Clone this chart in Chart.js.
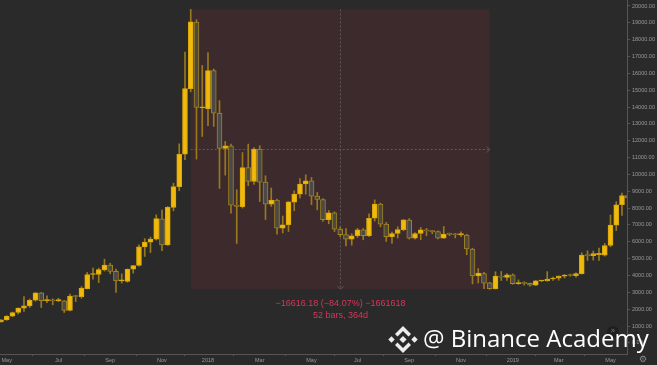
<!DOCTYPE html>
<html><head><meta charset="utf-8">
<script src="https://cdn.jsdelivr.net/npm/chart.js@4.4.1/dist/chart.umd.min.js"></script>
<style>html,body{margin:0;padding:0;background:#2a2a2a;overflow:hidden}canvas{display:block}</style>
</head><body><canvas id="c" width="657" height="365"></canvas>
<script>
// Weekly candles, index 0 = week of 2018-01-01
const FIRST_WEEK = -36;
const opens  = [1250,1360,1580,1800,2060,2200,2530,2970,2510,2530,2490,2500,1920,2770,2740,3210,4060,4060,4330,4620,4240,3680,3650,4370,4590,5700,5980,6160,7370,5820,8040,9280,11200,15090,19050,13960,
  13900,16170,13640,11540,11700,8180,8080,10400,9580,11500,9540,8240,8480,6810,7010,8360,8830,9430,9620,8710,8510,7320,7720,6750,6430,6160,6360,6710,6360,7400,8240,7050,6300,6490,6720,7290,6220,6490,6700,6650,6600,6220,6460,6440,6410,6400,5570,3980,4120,3560,3210,3960,
  3880,4040,3520,3550,3540,3420,3670,3680,3790,3840,3960,4010,3990,4110,5210,5180,5240,5210,5780,6990,8200,8750];
const highs  = [1380,1620,1830,2080,2750,2600,2980,2990,2790,2610,2650,2520,2890,2830,3340,4180,4440,4440,4970,4730,4380,4100,4390,4600,5820,6190,6280,7600,7880,8100,9480,11820,17270,19798,19190,16470,
  17230,16260,14380,11960,11800,9090,11300,11800,11600,11700,9920,9190,8540,7530,8380,9030,9750,9980,9820,8930,8570,7860,7780,6870,6790,6480,6800,6790,7660,8490,8300,7150,6580,6890,7310,7380,6540,6850,6790,6680,6650,6910,6520,6500,6590,6450,5620,4410,4180,3600,4220,4240,
  4110,4100,3740,3630,3550,3700,3720,4230,3900,3980,4060,4080,4150,5350,5470,5450,5630,5900,7590,8380,8890,9090];
const lows   = [1230,1340,1550,1720,1860,2100,2470,2100,2380,2260,2450,1800,1900,2450,2650,3200,3780,3580,4260,4100,2990,3550,3600,4140,4560,5130,5360,6100,5480,5780,7840,9030,10870,14900,10910,12250,
  12900,12850,9170,9960,7700,5900,8000,9330,9400,8390,7320,8100,6460,6520,6610,7840,8600,8830,8200,7900,7210,7070,6610,6310,5760,5800,6260,6120,6300,7230,6890,6020,5900,6220,6650,6160,6150,6120,6360,6480,6170,6200,6360,6230,6300,5230,3500,3550,3210,3180,3190,3700,
  3700,3480,3470,3430,3370,3400,3630,3660,3700,3720,3850,3950,3900,4080,4890,4910,4890,5150,5700,6670,7560,8020];
const closes = [1360,1580,1800,2060,2200,2530,2970,2510,2530,2500,2570,1920,2770,2750,3250,4060,4090,4350,4620,4240,3680,3700,4370,4590,5700,5980,6160,7380,5820,8040,9280,11200,15090,19060,13980,13990,
  16160,13640,11540,11700,8180,8100,10410,9580,11500,9540,8240,8480,6810,7010,8370,8830,9430,9620,8710,8510,7320,7720,6750,6420,6160,6360,6710,6360,7400,8240,7050,6300,6490,6730,7300,6220,6490,6710,6650,6600,6220,6460,6440,6420,6490,5570,3980,4140,3550,3210,3960,3900,
  4040,3520,3550,3530,3420,3680,3690,3790,3840,3960,4030,4000,4110,5210,5180,5300,5320,5780,6990,8200,8750,8600];

const tickWeeks  = [-35,-26,-17,-8,0,9,18,26,35,44,53,61,70];
const tickLabels = ['May','Jul','Sep','Nov','2018','Mar','May','Jul','Sep','Nov','2019','Mar','May'];
const priceTicks = [0,1000,2000,3000,4000,5000,6000,7000,8000,9000,10000,11000,12000,13000,14000,15000,16000,17000,18000,19000,20000];

// Date & price range measurement
const measureFromWeek = -3, measureToWeek = 49;
const measureHigh = 19798, measureLow = 3181.82;
const measureLine1 = '\u221216616.18 (\u221284.07%) \u22121661618';
const measureLine2 = '52 bars, 364d';

const UP_FILL = '#f0b90b', UP_BORDER = '#d9a70c';
const DN_FILL = '#4a4945', DN_BORDER = '#a3851f';
const WICK = '#98791d';

const bodies = [], wicks = [], fills = [], borders = [];
for (let k = 0; k < opens.length; k++) {
  const x = FIRST_WEEK + k;
  const o = opens[k], c = closes[k];
  bodies.push({x: x, y: [Math.min(o, c), Math.max(o, c)]});
  wicks.push({x: x, y: [lows[k], highs[k]]});
  const up = c >= o;
  fills.push(up ? UP_FILL : DN_FILL);
  borders.push(up ? UP_BORDER : DN_BORDER);
}

const bgPlugin = {
  id: 'bg',
  beforeDraw(chart) {
    const ctx = chart.ctx;
    ctx.save();
    ctx.fillStyle = '#2a2a2a';
    ctx.fillRect(0, 0, chart.width, chart.height);
    ctx.restore();
  },
  beforeDatasetsDraw(chart) {
    const ctx = chart.ctx, xs = chart.scales.x, ys = chart.scales.y;
    const x0 = xs.getPixelForValue(measureFromWeek), x1 = xs.getPixelForValue(measureToWeek);
    const y0 = ys.getPixelForValue(measureHigh), y1 = ys.getPixelForValue(measureLow);
    ctx.save();
    ctx.fillStyle = '#3d2a2d';
    ctx.fillRect(x0, y0, x1 - x0, y1 - y0);
    const mx = Math.round((x0 + x1) / 2) + 0.5, my = Math.round((y0 + y1) / 2) + 0.5;
    ctx.strokeStyle = '#5e5a5a';
    ctx.lineWidth = 1;
    ctx.setLineDash([2, 2]);
    ctx.beginPath();
    ctx.moveTo(x0, my); ctx.lineTo(x1, my);
    ctx.moveTo(mx, y0); ctx.lineTo(mx, y1);
    ctx.stroke();
    ctx.setLineDash([]);
    ctx.beginPath();
    ctx.moveTo(x1 - 3, my - 3); ctx.lineTo(x1, my); ctx.lineTo(x1 - 3, my + 3);
    ctx.moveTo(mx - 3, y1 - 3); ctx.lineTo(mx, y1); ctx.lineTo(mx + 3, y1 - 3);
    ctx.stroke();
    ctx.fillStyle = '#d8365a';
    ctx.font = '9px "Liberation Sans", Arial, sans-serif';
    ctx.textAlign = 'center';
    ctx.textBaseline = 'middle';
    ctx.fillText(measureLine1, mx, y1 + 14);
    ctx.fillText(measureLine2, mx, y1 + 26);
    ctx.restore();
  },
  afterDraw(chart) {
    const ctx = chart.ctx;
    ctx.save();
    // small round icon
    ctx.fillStyle = '#1e1e1e';
    ctx.beginPath(); ctx.arc(613, 332, 6, 0, Math.PI * 2); ctx.fill();
    ctx.fillStyle = '#777';
    ctx.font = '8px "DejaVu Sans"';
    ctx.textAlign = 'center'; ctx.textBaseline = 'middle';
    ctx.fillText('\u00bb', 613, 331);
    // gear
    ctx.fillStyle = '#8a8a8a';
    ctx.font = '9px "DejaVu Sans"';
    ctx.fillText('\u2699', 643, 360);
    // Binance logo
    ctx.fillStyle = '#ededed';
    const cx = 403, cy = 339.5;
    const diamond = (x, y, r) => { ctx.beginPath(); ctx.moveTo(x, y - r); ctx.lineTo(x + r, y); ctx.lineTo(x, y + r); ctx.lineTo(x - r, y); ctx.closePath(); ctx.fill(); };
    diamond(cx, cy, 3.6);
    diamond(cx - 11.5, cy, 3.2);
    diamond(cx + 11.5, cy, 3.2);
    const chevron = (s) => {
      ctx.beginPath();
      ctx.moveTo(cx, cy - s * 13.5);
      ctx.lineTo(cx + 8, cy - s * 5.5);
      ctx.lineTo(cx + 5.5, cy - s * 3);
      ctx.lineTo(cx, cy - s * 8.5);
      ctx.lineTo(cx - 5.5, cy - s * 3);
      ctx.lineTo(cx - 8, cy - s * 5.5);
      ctx.closePath(); ctx.fill();
    };
    chevron(1); chevron(-1);
    ctx.fillStyle = '#ffffff';
    ctx.font = '24px "Open Sans", "Noto Sans", sans-serif';
    ctx.textAlign = 'left'; ctx.textBaseline = 'alphabetic';
    ctx.fillText('@ Binance Academy', 423, 347);
    ctx.restore();
  }
};

new Chart(document.getElementById('c'), {
  type: 'bar',
  data: {
    datasets: [
      { data: bodies, backgroundColor: fills, borderColor: borders, borderWidth: 1, borderSkipped: false,
        barThickness: 5, minBarLength: 1, grouped: false, order: 0 },
      { data: wicks, backgroundColor: WICK, borderWidth: 0, barThickness: 1, grouped: false, order: 1 }
    ]
  },
  options: {
    responsive: false,
    animation: false,
    devicePixelRatio: 1,
    layout: { padding: 0 },
    plugins: { legend: { display: false }, tooltip: { enabled: false } },
    scales: {
      x: {
        type: 'linear',
        min: -36.17, max: 72.87,
        offset: false,
        grid: { drawOnChartArea: false, drawTicks: true, tickLength: 2, color: '#555' },
        border: { display: true, color: '#555' },
        ticks: { autoSkip: false, maxRotation: 0, padding: 1, color: '#9a9a9a',
          font: { size: 5.5, family: '"Liberation Sans", Arial, sans-serif' },
          callback: (v) => { const k = tickWeeks.indexOf(v); return k >= 0 ? tickLabels[k] : ''; } },
        afterBuildTicks: (s) => { s.ticks = tickWeeks.map(v => ({ value: v })); },
        afterFit: (s) => { s.height = 11; s.paddingLeft = 0; s.paddingRight = 0; }
      },
      y: {
        position: 'right',
        min: -662, max: 20356,
        grid: { drawOnChartArea: false, drawTicks: true, tickLength: 3, color: '#555' },
        border: { display: true, color: '#555' },
        ticks: { padding: 2, color: '#9a9a9a',
          font: { size: 5.5, family: '"Liberation Sans", Arial, sans-serif' },
          callback: (v) => v.toFixed(2) },
        afterBuildTicks: (s) => { s.ticks = priceTicks.map(v => ({ value: v })); },
        afterFit: (s) => { s.width = 30; s.paddingTop = 0; s.paddingBottom = 0; }
      }
    }
  },
  plugins: [bgPlugin]
});
</script></body></html>
